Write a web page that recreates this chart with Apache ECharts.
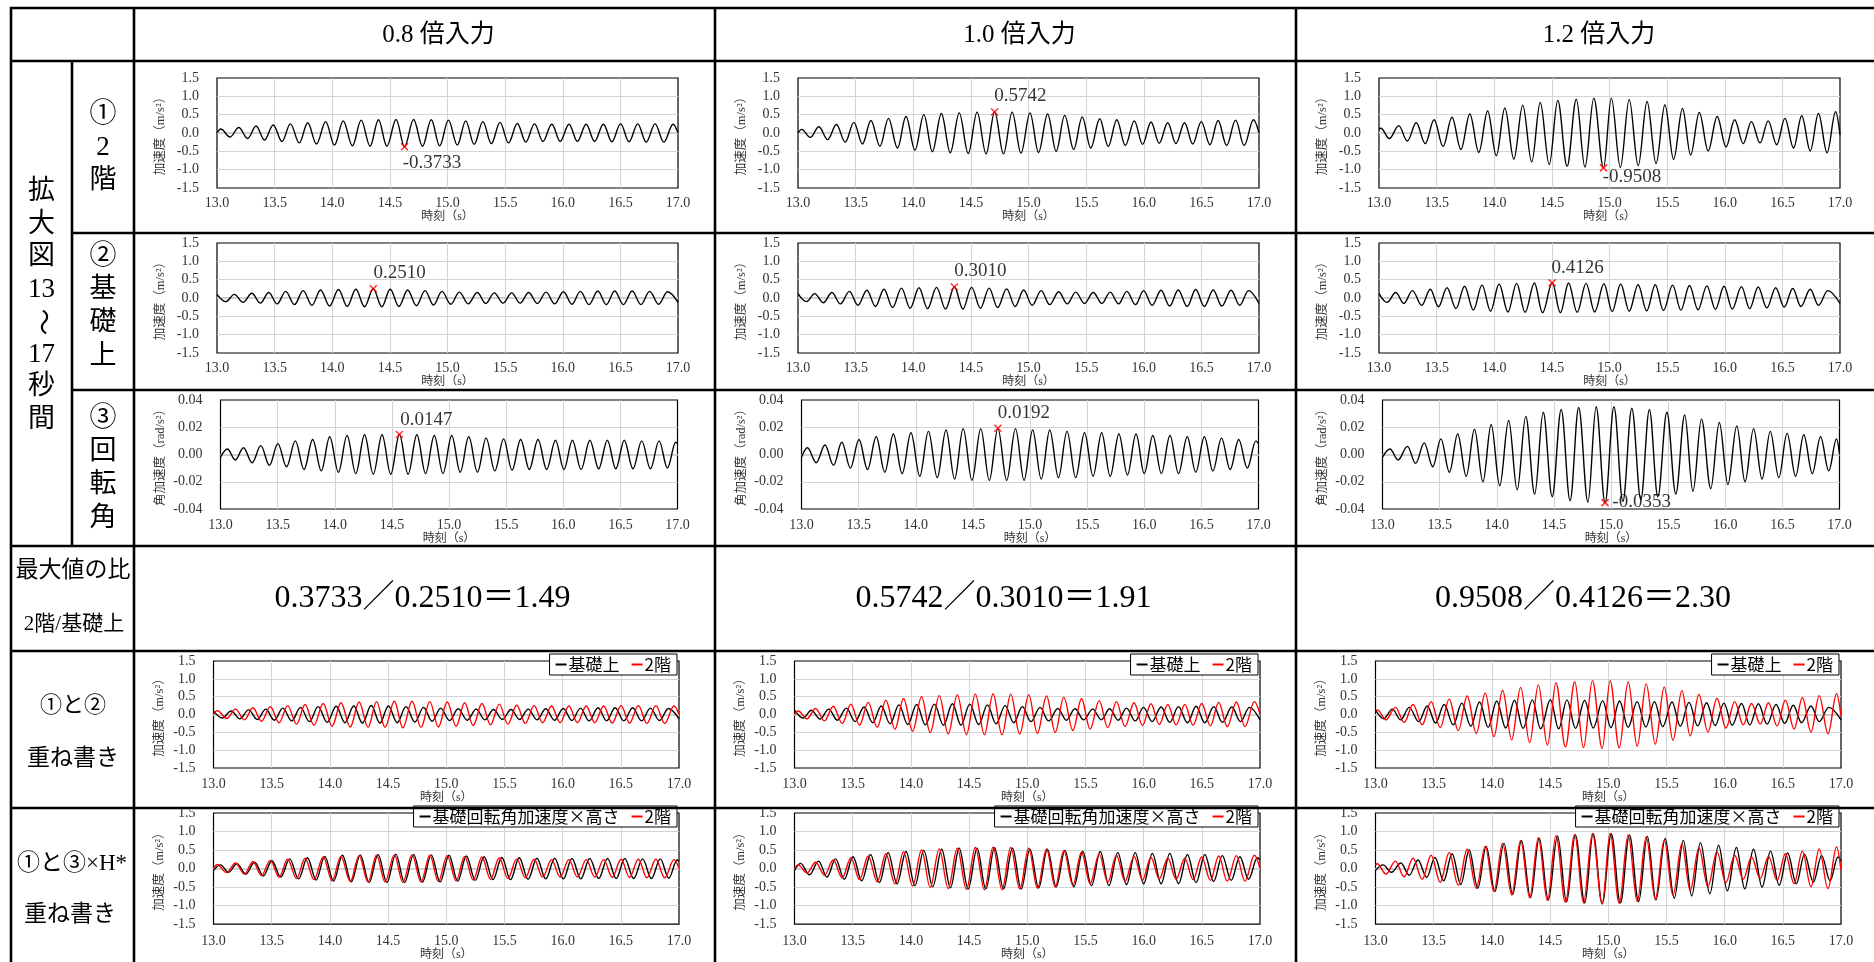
<!DOCTYPE html>
<html><head><meta charset="utf-8">
<script src="https://cdn.jsdelivr.net/npm/echarts@6/dist/echarts.min.js"></script>
<style>html,body{margin:0;padding:0;background:#fff}#c{width:1874px;height:962px}</style>
</head><body><div id="c"></div>
<script>
// ================= DATA =================
const inputLabels = ['0.8 倍入力', '1.0 倍入力', '1.2 倍入力'];
const timeRange = [13, 17], timeStep = 0.5;
const accRange = [-1.5, 1.5], accStep = 0.5;
const rotRange = [-0.04, 0.04], rotStep = 0.02;

// --- 0.8x input ---
const t2F_08 = [13.0,13.033,13.113,13.189,13.266,13.339,13.412,13.488,13.564,13.637,13.714,13.787,13.863,13.943,14.019,14.095,14.175,14.251,14.328,14.401,14.474,14.554,14.627,14.706,14.783,14.859,14.932,15.008,15.085,15.158,15.231,15.307,15.380,15.456,15.529,15.606,15.679,15.755,15.828,15.905,15.978,16.054,16.127,16.203,16.276,16.353,16.426,16.502,16.575,16.651,16.724,16.801,16.877,16.957,17.0];
const acc2F_08 = [0.0,0.11,-0.11,0.15,-0.15,0.19,-0.19,0.22,-0.23,0.25,-0.27,0.28,-0.30,0.31,-0.33,0.33,-0.35,0.35,-0.36,0.36,-0.36,0.37,-0.3733,0.37,-0.36,0.36,-0.35,0.35,-0.33,0.33,-0.31,0.31,-0.29,0.29,-0.27,0.26,-0.25,0.25,-0.23,0.24,-0.23,0.24,-0.23,0.24,-0.23,0.24,-0.24,0.25,-0.24,0.25,-0.25,0.25,-0.25,0.24,0.0];
const tBase_08 = [13.0,13.076,13.151,13.226,13.302,13.376,13.449,13.522,13.596,13.672,13.748,13.824,13.899,13.977,14.054,14.13,14.205,14.28,14.356,14.43,14.503,14.578,14.654,14.73,14.805,14.878,14.952,15.028,15.103,15.18,15.258,15.332,15.406,15.482,15.557,15.63,15.704,15.78,15.855,15.93,16.006,16.08,16.153,16.228,16.304,16.378,16.451,16.526,16.602,16.678,16.754,16.832,16.909,17.0];
const accBase_08 = [0.10,-0.10,0.10,-0.12,0.13,-0.14,0.15,-0.16,0.18,-0.18,0.20,-0.20,0.22,-0.22,0.23,-0.23,0.24,-0.24,0.2510,-0.24,0.24,-0.23,0.22,-0.21,0.20,-0.19,0.18,-0.17,0.16,-0.16,0.15,-0.15,0.14,-0.14,0.14,-0.14,0.15,-0.15,0.16,-0.16,0.17,-0.17,0.18,-0.18,0.19,-0.18,0.19,-0.18,0.19,-0.18,0.18,-0.17,0.17,-0.12];
const tRot_08 = [13.0,13.06,13.13,13.201,13.277,13.353,13.428,13.502,13.578,13.655,13.731,13.807,13.882,13.956,14.032,14.108,14.184,14.261,14.337,14.414,14.49,14.566,14.642,14.719,14.795,14.871,14.947,15.024,15.098,15.173,15.249,15.325,15.401,15.478,15.552,15.627,15.703,15.779,15.855,15.932,16.006,16.08,16.156,16.233,16.31,16.386,16.46,16.534,16.61,16.687,16.763,16.839,16.912,16.984,17.0];
const accRot_08 = [-0.002,0.004,-0.004,0.005,-0.006,0.0065,-0.008,0.008,-0.009,0.010,-0.011,0.011,-0.012,0.013,-0.013,0.014,-0.014,0.0145,-0.0145,0.0145,-0.0145,0.0147,-0.0145,0.0145,-0.014,0.014,-0.014,0.014,-0.013,0.013,-0.013,0.012,-0.012,0.0115,-0.0115,0.011,-0.011,0.011,-0.011,0.0105,-0.011,0.0105,-0.011,0.0105,-0.0105,0.0105,-0.0105,0.0105,-0.0105,0.010,-0.0105,0.010,-0.010,0.009,0.008];
const accRotH_08 = [-0.05,0.10,-0.10,0.13,-0.15,0.17,-0.20,0.21,-0.23,0.26,-0.28,0.29,-0.31,0.33,-0.34,0.36,-0.36,0.37,-0.38,0.38,-0.38,0.39,-0.38,0.38,-0.37,0.37,-0.36,0.36,-0.34,0.34,-0.32,0.32,-0.30,0.30,-0.30,0.29,-0.29,0.28,-0.28,0.28,-0.28,0.27,-0.28,0.27,-0.27,0.27,-0.27,0.27,-0.27,0.26,-0.27,0.26,-0.26,0.23,0.20];

// --- 1.0x input ---
const t2F_10 = [13.0,13.032,13.107,13.181,13.258,13.333,13.41,13.485,13.559,13.633,13.711,13.785,13.863,13.937,14.015,14.092,14.166,14.244,14.321,14.399,14.477,14.554,14.632,14.706,14.783,14.858,14.935,15.013,15.087,15.166,15.24,15.314,15.392,15.466,15.54,15.618,15.692,15.766,15.84,15.918,15.99,16.063,16.134,16.208,16.279,16.354,16.425,16.499,16.574,16.645,16.719,16.797,16.871,16.952,17.0];
const acc2F_10 = [0.0,0.10,-0.12,0.17,-0.18,0.23,-0.25,0.29,-0.30,0.34,-0.36,0.40,-0.41,0.45,-0.47,0.50,-0.51,0.53,-0.54,0.55,-0.56,0.57,-0.57,0.5742,-0.57,0.57,-0.55,0.55,-0.53,0.52,-0.50,0.48,-0.45,0.44,-0.41,0.39,-0.37,0.36,-0.34,0.33,-0.31,0.30,-0.28,0.28,-0.29,0.28,-0.30,0.31,-0.32,0.34,-0.34,0.35,-0.34,0.36,0.0];
const tBase_10 = [13.0,13.074,13.145,13.22,13.294,13.368,13.446,13.52,13.598,13.672,13.746,13.821,13.898,13.973,14.05,14.124,14.202,14.28,14.357,14.431,14.506,14.583,14.658,14.732,14.81,14.884,14.958,15.032,15.11,15.184,15.262,15.336,15.41,15.485,15.562,15.637,15.708,15.782,15.853,15.928,15.999,16.073,16.15,16.225,16.299,16.377,16.451,16.525,16.603,16.677,16.758,16.832,16.909,17.0];
const accBase_10 = [0.12,-0.10,0.12,-0.13,0.15,-0.16,0.18,-0.20,0.21,-0.23,0.24,-0.26,0.27,-0.28,0.28,-0.29,0.29,-0.30,0.3010,-0.30,0.29,-0.28,0.27,-0.26,0.25,-0.23,0.22,-0.20,0.20,-0.18,0.17,-0.16,0.16,-0.15,0.15,-0.15,0.16,-0.16,0.18,-0.18,0.20,-0.20,0.21,-0.22,0.22,-0.23,0.23,-0.23,0.22,-0.22,0.21,-0.20,0.20,-0.15];
const tRot_10 = [13.0,13.052,13.129,13.206,13.28,13.353,13.428,13.503,13.578,13.654,13.729,13.804,13.881,13.958,14.035,14.111,14.188,14.265,14.34,14.415,14.492,14.569,14.644,14.719,14.796,14.873,14.948,15.023,15.098,15.173,15.249,15.324,15.4,15.477,15.552,15.627,15.702,15.778,15.853,15.928,16.0,16.075,16.15,16.225,16.3,16.376,16.451,16.526,16.601,16.676,16.752,16.827,16.902,16.977,17.0];
const accRot_10 = [-0.002,0.005,-0.006,0.007,-0.008,0.009,-0.010,0.011,-0.011,0.013,-0.013,0.015,-0.014,0.016,-0.016,0.017,-0.017,0.018,-0.018,0.019,-0.019,0.019,-0.019,0.0192,-0.019,0.019,-0.019,0.018,-0.018,0.018,-0.017,0.017,-0.017,0.016,-0.016,0.016,-0.016,0.015,-0.015,0.015,-0.014,0.014,-0.014,0.014,-0.014,0.013,-0.013,0.013,-0.012,0.012,-0.011,0.011,-0.010,0.010,0.008];
const accRotH_10 = [-0.05,0.14,-0.17,0.20,-0.23,0.26,-0.29,0.32,-0.33,0.38,-0.38,0.43,-0.41,0.46,-0.46,0.49,-0.49,0.52,-0.52,0.55,-0.55,0.55,-0.55,0.56,-0.55,0.55,-0.55,0.52,-0.52,0.52,-0.49,0.49,-0.49,0.46,-0.46,0.46,-0.46,0.43,-0.43,0.43,-0.41,0.41,-0.41,0.41,-0.41,0.38,-0.38,0.38,-0.35,0.35,-0.32,0.32,-0.29,0.29,0.23];

// --- 1.2x input ---
const t2F_12 = [13.0,13.016,13.09,13.171,13.246,13.323,13.401,13.478,13.556,13.633,13.711,13.788,13.866,13.943,14.018,14.092,14.17,14.247,14.325,14.399,14.477,14.551,14.632,14.712,14.787,14.864,14.948,15.016,15.094,15.171,15.249,15.326,15.404,15.481,15.556,15.633,15.704,15.779,15.856,15.934,16.011,16.086,16.16,16.231,16.306,16.377,16.451,16.522,16.597,16.668,16.742,16.813,16.888,16.962,17.0];
const acc2F_12 = [0.10,0.13,-0.15,0.20,-0.22,0.28,-0.29,0.36,-0.37,0.43,-0.45,0.52,-0.53,0.60,-0.62,0.68,-0.71,0.76,-0.79,0.83,-0.86,0.89,-0.91,0.92,-0.93,0.95,-0.9508,0.95,-0.94,0.91,-0.89,0.86,-0.83,0.77,-0.72,0.67,-0.60,0.56,-0.49,0.45,-0.38,0.36,-0.29,0.31,-0.27,0.33,-0.32,0.40,-0.41,0.47,-0.49,0.53,-0.54,0.58,-0.05];
const tBase_12 = [13.0,13.071,13.145,13.216,13.29,13.371,13.445,13.516,13.59,13.668,13.742,13.819,13.894,13.968,14.042,14.119,14.194,14.268,14.348,14.419,14.503,14.574,14.645,14.719,14.797,14.871,14.952,15.023,15.097,15.171,15.248,15.323,15.397,15.468,15.548,15.619,15.694,15.768,15.845,15.919,15.994,16.065,16.145,16.216,16.29,16.365,16.442,16.516,16.59,16.661,16.742,16.813,16.894,17.0];
const accBase_12 = [0.12,-0.12,0.15,-0.15,0.20,-0.20,0.24,-0.24,0.28,-0.29,0.32,-0.33,0.35,-0.36,0.38,-0.38,0.40,-0.39,0.41,-0.40,0.4126,-0.40,0.41,-0.39,0.40,-0.38,0.39,-0.37,0.38,-0.36,0.36,-0.35,0.36,-0.34,0.35,-0.33,0.34,-0.32,0.33,-0.31,0.32,-0.30,0.31,-0.29,0.30,-0.27,0.28,-0.25,0.26,-0.23,0.24,-0.20,0.20,-0.15];
const tRot_12 = [13.0,13.065,13.137,13.218,13.29,13.365,13.44,13.511,13.586,13.658,13.733,13.805,13.879,13.951,14.026,14.104,14.179,14.254,14.332,14.407,14.485,14.564,14.642,14.717,14.798,14.87,14.948,15.026,15.104,15.182,15.261,15.336,15.41,15.489,15.567,15.645,15.717,15.792,15.873,15.948,16.023,16.101,16.173,16.248,16.322,16.394,16.469,16.541,16.616,16.687,16.762,16.834,16.906,16.974,17.0];
const accRot_12 = [-0.002,0.004,-0.004,0.006,-0.0065,0.0085,-0.009,0.0115,-0.013,0.015,-0.016,0.0185,-0.020,0.022,-0.023,0.025,-0.026,0.028,-0.029,0.031,-0.031,0.033,-0.034,0.0345,-0.035,0.035,-0.0353,0.035,-0.0345,0.034,-0.033,0.033,-0.031,0.031,-0.029,0.029,-0.027,0.026,-0.025,0.0235,-0.022,0.021,-0.020,0.019,-0.018,0.017,-0.017,0.0155,-0.016,0.0145,-0.014,0.013,-0.012,0.0115,0.0];
const accRotH_12 = [-0.05,0.10,-0.10,0.15,-0.18,0.23,-0.24,0.30,-0.33,0.40,-0.43,0.50,-0.53,0.60,-0.62,0.68,-0.70,0.76,-0.78,0.82,-0.85,0.88,-0.90,0.91,-0.93,0.94,-0.95,0.94,-0.93,0.91,-0.89,0.87,-0.85,0.81,-0.80,0.76,-0.74,0.70,-0.68,0.63,-0.60,0.57,-0.55,0.52,-0.50,0.47,-0.45,0.42,-0.41,0.39,-0.37,0.35,-0.33,0.31,0.20];

// labels
const nameF2 = '2階', nameBase = '基礎上', nameRotH = '基礎回転角加速度×高さ';
const xName = '時刻（s）', accName = '加速度（m/s²）', rotName = '角加速度（rad/s²）';
const sideTitle = ['拡','大','図','13','〜','17','秒','間'];
const rowTitles = [['①','2','階'], ['②','基','礎','上'], ['③','回','転','角']];
const ratioTitle = ['最大値の比', '2階/基礎上'];
const overlay1Title = ['①と②', '重ね書き'];
const overlay2Title = ['①と③×H*', '重ね書き'];

const levels = [
  {t2F:t2F_08, a2F:acc2F_08, tB:tBase_08, aB:accBase_08, tR:tRot_08, aR:accRot_08, aRH:accRotH_08},
  {t2F:t2F_10, a2F:acc2F_10, tB:tBase_10, aB:accBase_10, tR:tRot_10, aR:accRot_10, aRH:accRotH_10},
  {t2F:t2F_12, a2F:acc2F_12, tB:tBase_12, aB:accBase_12, tR:tRot_12, aR:accRot_12, aRH:accRotH_12}
];

// ================= LAYOUT / STYLE =================
const SERIF = "'Liberation Serif','Noto Sans CJK JP',serif";
const SANS = "'Noto Sans CJK JP','Noto Sans',sans-serif";
const COLX = [134, 715, 1296];
const PLOT_TOP = [78, 243, 400, 661, 813];
const PLOT_BOT = [188, 353, 509, 768, 925];
const PLOT_L = [83, 83, 86.5, 79.5, 79.5];
const PLOT_R = [544, 544, 543.5, 545, 545];
const XLAB_M = [8, 8, 9, 9, 10];
const XNAME_G = [21, 21, 22, 24, 22];
const YNAME_G = [50, 50, 54, 47.5, 47.5];
const LABEL_OFF = [[[-1,17],[0.5,-15],[0,10]], [[1,-15.5],[0.5,-15],[0,-14.5]], [[1.5,-14],[0.5,-15],[8,0]]];

const zip = (t, v) => t.map((x, i) => [x, v[i]]);
const argAbsMax = v => { let k = 0; v.forEach((x, i) => { if (Math.abs(x) > Math.abs(v[k])) k = i; }); return k; };

const grids = [], xAxes = [], yAxes = [], series = [], legends = [];

function lineS(gi, name, data, color) {
  return {type:'line', name, xAxisIndex:gi, yAxisIndex:gi, data, showSymbol:false, symbol:'none',
    smooth:0.36, smoothMonotone:'x', lineStyle:{color, width:1.4}, itemStyle:{color},
    animation:false, silent:true, z:2,
    markLine:{silent:true, symbol:'none', z:1, label:{show:false}, animation:false,
      lineStyle:{color:'#d0d0d0', width:2.2, type:'solid'}, data:[{yAxis:0}]}};
}
function markS(gi, t, v, off) {
  const k = argAbsMax(v);
  return {type:'scatter', xAxisIndex:gi, yAxisIndex:gi, data:[[t[k], v[k]]],
    symbol:'path://M0 0L10 10M10 0L0 10', symbolSize:7,
    itemStyle:{color:'rgba(0,0,0,0)', borderColor:'#ff0000', borderWidth:1.5},
    label:{show:true, formatter:p => p.value[1].toFixed(4), position:[3.5 + off[0], 3.5 + off[1]],
      align:'left', verticalAlign:'middle', fontFamily:SERIF, fontSize:19, color:'#000'},
    z:5, animation:false, silent:true};
}

for (let c = 0; c < 3; c++) {
  const L = levels[c];
  for (let r = 0; r < 5; r++) {
    const gi = c * 5 + r;
    const isRot = r === 2;
    grids.push({left:COLX[c] + PLOT_L[r], top:PLOT_TOP[r], width:PLOT_R[r] - PLOT_L[r],
      height:PLOT_BOT[r] - PLOT_TOP[r], show:true, borderColor:'#000', borderWidth:1.2,
      backgroundColor:'rgba(0,0,0,0)'});
    xAxes.push({gridIndex:gi, type:'value', min:timeRange[0], max:timeRange[1], interval:timeStep,
      name:xName, nameLocation:'middle', nameGap:XNAME_G[r],
      nameTextStyle:{fontFamily:SERIF, fontSize:12, color:'#333'},
      axisLine:{show:false}, axisTick:{show:false},
      axisLabel:{margin:XLAB_M[r], fontFamily:SERIF, fontSize:14, color:'#333', formatter:v => v.toFixed(1)},
      splitLine:{show:true, showMinLine:false, showMaxLine:false, lineStyle:{color:'#d4d4d4', width:1}}});
    yAxes.push({gridIndex:gi, type:'value',
      min:isRot ? rotRange[0] : accRange[0], max:isRot ? rotRange[1] : accRange[1],
      interval:isRot ? rotStep : accStep,
      name:isRot ? rotName : accName, nameLocation:'middle', nameRotate:90,
      nameGap:YNAME_G[r], nameTextStyle:{fontFamily:SERIF, fontSize:12.5, color:'#333'},
      axisLine:{show:false}, axisTick:{show:false},
      axisLabel:{margin:18, fontFamily:SERIF, fontSize:14, color:'#333',
        formatter:v => v.toFixed(isRot ? 2 : 1)},
      splitLine:{show:true, showMinLine:false, showMaxLine:false, lineStyle:{color:'#d4d4d4', width:1}}});

    if (r === 0) {
      series.push(lineS(gi, 'f2_' + c, zip(L.t2F, L.a2F), '#000'));
      series.push(markS(gi, L.t2F, L.a2F, LABEL_OFF[0][c]));
    } else if (r === 1) {
      series.push(lineS(gi, 'b_' + c, zip(L.tB, L.aB), '#000'));
      series.push(markS(gi, L.tB, L.aB, LABEL_OFF[1][c]));
    } else if (r === 2) {
      series.push(lineS(gi, 'r_' + c, zip(L.tR, L.aR), '#000'));
      series.push(markS(gi, L.tR, L.aR, LABEL_OFF[2][c]));
    } else {
      if (r === 3) series.push(lineS(gi, nameBase, zip(L.tB, L.aB), '#000'));
      else series.push(lineS(gi, nameRotH, zip(L.tR, L.aRH), '#000'));
      series.push(lineS(gi, nameF2, zip(L.t2F, L.a2F), '#ff0000'));
      legends.push({data:[r === 3 ? nameBase : nameRotH, nameF2], selectedMode:false,
        right:1874 - (COLX[c] + PLOT_R[r]) + 2, top:PLOT_TOP[r] - 7, orient:'horizontal',
        backgroundColor:'#fff', borderColor:'#000', borderWidth:1, borderRadius:0, padding:[2,6],
        itemGap:12, itemWidth:11, itemHeight:2, icon:'rect',
        textStyle:{fontFamily:SANS, fontSize:17, color:'#000', padding:[0,0,0,-3]}});
    }
  }
}

// ===== table lines & texts =====
const graphics = [];
const LW = 2.6;
function hline(y, x1, x2) { graphics.push({type:'line', silent:true, z:100, shape:{x1, y1:y, x2, y2:y}, style:{stroke:'#000', lineWidth:LW}}); }
function vline(x, y1, y2) { graphics.push({type:'line', silent:true, z:100, shape:{x1:x, y1, x2:x, y2}, style:{stroke:'#000', lineWidth:LW}}); }
hline(8, 10, 1874); hline(61, 10, 1874); hline(233, 72, 1874); hline(390, 72, 1874);
hline(546, 10, 1874); hline(651, 10, 1874); hline(808, 10, 1874);
vline(11, 7, 962); vline(72, 61, 546); vline(134, 7, 962); vline(715, 7, 962); vline(1296, 7, 962);

function txt(text, x, y, size, family, rot) {
  graphics.push({type:'text', silent:true, z:100, x, y, rotation:rot || 0,
    style:{text, x:0, y:0, textAlign:'center', textVerticalAlign:'middle',
      font:size + 'px ' + family, fill:'#000'}});
}
const colCenters = [424.5, 1005.5, 1585];
inputLabels.forEach((s, c) => txt(s, colCenters[c] + 14, 35, 25, SERIF));
levels.forEach((L, c) => {
  const m2 = Math.abs(L.a2F[argAbsMax(L.a2F)]), mb = Math.abs(L.aB[argAbsMax(L.aB)]);
  txt(m2.toFixed(4) + '／' + mb.toFixed(4) + '＝' + (m2 / mb).toFixed(2), colCenters[c] - 2, 599, 32, SERIF);
});
sideTitle.forEach((s, i) => txt(s, 41.5, 192 + i * 32.5, 27, SERIF, s === '〜' ? -Math.PI / 2 : 0));
const rowTitleTop = [115, 257, 419];
rowTitles.forEach((arr, r) => arr.forEach((s, i) => txt(s, 103, rowTitleTop[r] + i * 33.2, 27, SERIF)));
txt(ratioTitle[0], 73, 571, 23, SERIF);
txt(ratioTitle[1], 74, 624, 21, SERIF);
txt(overlay1Title[0], 73, 706, 22, SERIF);
txt(overlay1Title[1], 73, 759, 23, SERIF);
txt(overlay2Title[0], 72, 864, 23, SERIF);
txt(overlay2Title[1], 70, 915, 23, SERIF);

const chart = echarts.init(document.getElementById('c'), null, {renderer:'canvas'});
chart.setOption({
  animation:false, backgroundColor:'#fff',
  textStyle:{fontFamily:SERIF},
  grid:grids, xAxis:xAxes, yAxis:yAxes, series, legend:legends, graphic:graphics
});
</script></body></html>
